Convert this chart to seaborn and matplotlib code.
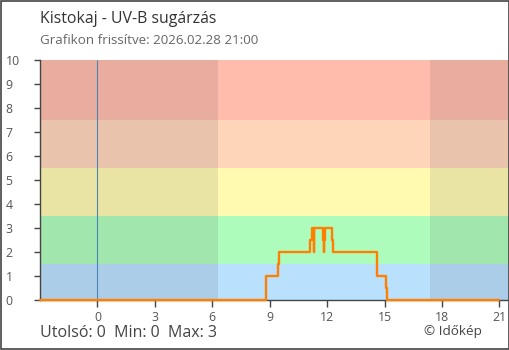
import matplotlib
matplotlib.use("Agg")
import matplotlib.pyplot as plt
import seaborn as sns
import pandas as pd
from matplotlib.patches import Rectangle

# ---- data ----
hours = [-3.0, 8.78, 8.83, 9.43, 9.48, 11.13, 11.20, 11.30, 11.32, 11.79, 11.83,
         11.84, 11.88, 12.25, 12.32, 14.63, 15.07, 15.15, 21.0]
uvb = [0, 0.5, 1, 1.5, 2, 2.5, 3, 2, 3, 2.5, 2, 2.5, 3, 2.5, 2, 1, 0.5, 0, 0]

x_ticks = [0, 3, 6, 9, 12, 15, 18, 21]
y_ticks = list(range(0, 11))

band_edges = [0, 1.5, 3.5, 5.5, 7.5, 10]
band_colors = ["#b9e0fd", "#adfcbc", "#fffab0", "#ffd5ba", "#ffbcad"]
sunrise, sunset = 6.3, 17.38

title = "Kistokaj - UV-B sugárzás"
subtitle = "Grafikon frissítve: 2026.02.28 21:00"
footer = "Utolsó: 0  Min: 0  Max: 3"
credit = "© Időkép"

# ---- drawing ----
sns.set_style("white")
plt.rcParams["font.family"] = ["Open Sans", "DejaVu Sans"]

df = pd.DataFrame({"hour": hours, "uvb": uvb})

fig = plt.figure(figsize=(5.1, 3.5), dpi=100)
ax = fig.add_axes([40 / 510, 1 - 300 / 350, 469 / 510, 240 / 350])

xmin, xmax = -3.0, 21.5
for lo, hi, c in zip(band_edges[:-1], band_edges[1:], band_colors):
    ax.axhspan(lo, hi, color=c, lw=0, zorder=0)
ax.axvspan(xmin, sunrise, color="#3a3a3a", alpha=0.11, lw=0, zorder=0.5)
ax.axvspan(sunset, xmax, color="#3a3a3a", alpha=0.11, lw=0, zorder=0.5)

ax.axvline(0, color="#4a86b8", lw=0.8, zorder=1)

sns.lineplot(data=df, x="hour", y="uvb", ax=ax, drawstyle="steps-post",
             color="#ff7f00", lw=1.7, estimator=None, zorder=5, clip_on=False)

ax.set_xlim(xmin, xmax)
ax.set_ylim(0, 10)
ax.set_xticks(x_ticks)
ax.set_yticks(y_ticks)
ax.set_xlabel("")
ax.set_ylabel("")

for s in ["top", "right"]:
    ax.spines[s].set_visible(False)
for s in ["left", "bottom"]:
    ax.spines[s].set_color("#444444")
    ax.spines[s].set_linewidth(1.0)

ax.tick_params(axis="x", direction="out", length=5, width=1, color="#444444",
               labelsize=8.8, labelcolor="#555555", pad=3, bottom=True)
ax.tick_params(axis="y", direction="out", length=4.3, width=1, color="#444444",
               labelsize=8.8, labelcolor="#555555", pad=20.5, left=True)
for lab in ax.get_yticklabels():
    lab.set_horizontalalignment("left")

fig.text(40 / 510, 1 - 19 / 350, title, fontsize=11.4, color="#333333",
         va="center", ha="left")
fig.text(40 / 510, 1 - 41 / 350, subtitle, fontsize=9.65, color="#666666",
         va="center", ha="left")
fig.text(40 / 510, 1 - 333 / 350, footer, fontsize=11.5, color="#444444",
         va="center", ha="left")
fig.text(482 / 510, 1 - 331 / 350, credit, fontsize=9.7, color="#444444",
         va="center", ha="right")

fig.patches.append(Rectangle((0.001, 0.0015), 0.998, 0.997, transform=fig.transFigure,
                             fill=False, edgecolor="#444444", lw=1.2))

fig.savefig("out.png", dpi=100)
